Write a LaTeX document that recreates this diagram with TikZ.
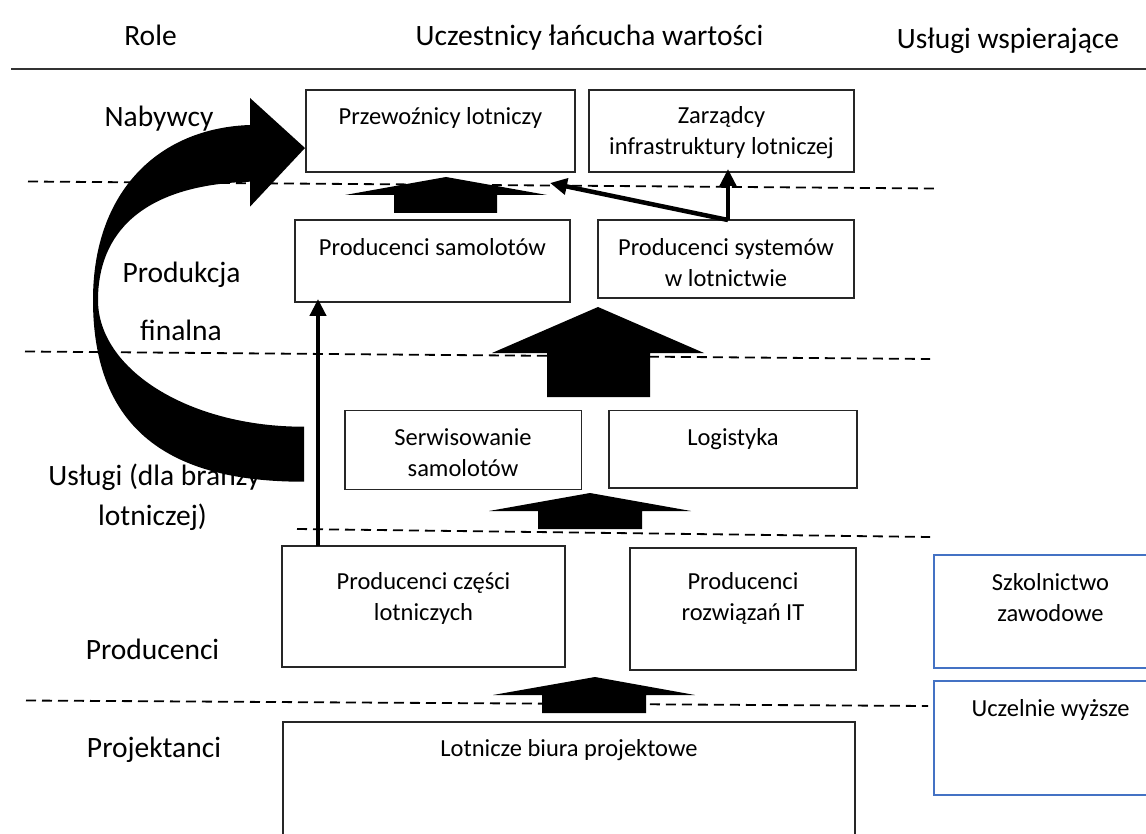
\documentclass[tikz,border=0pt]{standalone}
\usepackage{fontspec}
\setmainfont{Carlito}
\usetikzlibrary{arrows.meta}
\definecolor{boxblue}{RGB}{68,114,196}
\begin{document}
\begin{tikzpicture}[x=1pt,y=-1pt,
  box/.style={draw=black!85, line width=1.1pt, inner sep=0pt, outer sep=0pt, anchor=north west},
  bluebox/.style={draw=boxblue, line width=2.2pt, inner sep=0pt, outer sep=0pt, anchor=north west},
  txt/.style={font=\fontsize{24.5}{31}\selectfont, inner sep=0pt, anchor=base, align=center},
  lbl/.style={font=\fontsize{29.5}{36}\selectfont, inner sep=0pt, anchor=base},
  sepline/.style={dash pattern=on 10pt off 6pt, line width=1.8pt},
  thinarr/.style={line width=4.5pt, -{Triangle[width=16pt,length=17pt]}},
  blockarr/.style={fill=black}]
\clip (0,0) rectangle (1146,834);
\fill[white] (0,0) rectangle (1146,834);

% header
\node[lbl] (hrole) at (150.5,46) {Role};
\node[lbl] (hucz) at (589.5,46) {Uczestnicy łańcucha wartości};
\node[lbl] (husl) at (1008,49) {Usługi wspierające};
\draw[black!80, line width=2pt] (11,69) -- (1146,69);

% separators
\draw[sepline] (28,181.5) -- (935,188.5);
\draw[sepline] (25,351.5) -- (930,359);
\draw[sepline] (297,529) -- (930,537);
\draw[sepline] (26,700.5) -- (928,706);

% role labels
\node[lbl] (lnab) at (159,127) {Nabywcy};
\node[lbl] (lprod) at (181.5,283) {Produkcja};
\node[lbl] (lfin) at (181,341) {finalna};
\node[lbl] (lusl) at (154.5,485) {Usługi (dla branży};
\node[lbl] (llot) at (152.5,525) {lotniczej)};
\node[lbl] (lprc) at (152.5,659) {Producenci};
\node[lbl] (lprj) at (154,757) {Projektanci};

% boxes
\node[box, minimum width=269pt, minimum height=82pt] (prz) at (306,90) {};
\node[box, minimum width=265pt, minimum height=82pt] (zar) at (589,90) {};
\node[box, minimum width=275pt, minimum height=82pt] (psam) at (295,220) {};
\node[box, minimum width=256pt, minimum height=78pt] (psys) at (598,220) {};
\node[box, minimum width=236.5pt, minimum height=79pt] (serw) at (345,410.5) {};
\node[box, minimum width=248pt, minimum height=77.5pt] (log) at (609,410.5) {};
\node[box, minimum width=283pt, minimum height=121pt] (pcz) at (282,546) {};
\node[box, minimum width=226pt, minimum height=122pt] (pit) at (630,548) {};
\node[box, minimum width=572pt, minimum height=140pt] (lot) at (283,722) {};
\node[bluebox, minimum width=233pt, minimum height=113pt] (szk) at (934,555) {};
\node[bluebox, minimum width=233pt, minimum height=114pt] (ucz) at (934,681) {};

% box texts (multi-line nodes: y is the baseline of the last line)
\node[txt] (tprz) at (440.5,125) {Przewoźnicy lotniczy};
\node[txt] (tzar) at (721.5,155) {Zarządcy\\infrastruktury lotniczej};
\node[txt] (tpsam) at (432.5,256) {Producenci samolotów};
\node[txt] (tpsys) at (726,287) {Producenci systemów\\w lotnictwie};
\node[txt] (tserw) at (463,476) {Serwisowanie\\samolotów};
\node[txt] (tlog) at (733,445) {Logistyka};
\node[txt] (tpcz) at (423.5,620) {Producenci części\\lotniczych};
\node[txt] (tpit) at (743,620) {Producenci\\rozwiązań IT};
\node[txt] (tszk) at (1050.5,621) {Szkolnictwo\\zawodowe};
\node[txt] (tucz) at (1050.5,716) {Uczelnie wyższe};
\node[txt] (tlot) at (569,756) {Lotnicze biura projektowe};

% block arrows
\fill[blockarr] (394,213) -- (394,195) -- (345,195) -- (446,177) -- (547,195) -- (497,195) -- (497,213) -- cycle;
\fill[blockarr] (547,397) -- (547,353) -- (492,353) -- (598,307) -- (704,353) -- (650,353) -- (650,397) -- cycle;
\fill[blockarr] (538,529) -- (538,511) -- (489,511) -- (590,493) -- (691,511) -- (642,511) -- (642,529) -- cycle;
\fill[blockarr] (542,713) -- (542,695) -- (493,695) -- (595,677) -- (695,695) -- (646,695) -- (646,713) -- cycle;

% thin arrows
\coordinate (diagend) at (550,183);
\draw[thinarr] (318,0 |- pcz.north) -- ([yshift=3pt]318,0 |- psam.south);
\draw[thinarr] (728,0 |- psys.north) -- ([yshift=3pt]728,0 |- zar.south);
\draw[thinarr] (728,0 |- psys.north) -- (diagend);

% big curved arrow
\fill (304,481.7) .. controls (170,482) and (93,430) .. (93,300)
  .. controls (93,190) and (160,128) .. (250,125)
  -- (250,98) -- (305,148) -- (250,206.7) -- (250,181.7)
  .. controls (140,185) and (98,235) .. (98,300)
  .. controls (98,370) and (190,427) .. (304,426.7) -- cycle;
\end{tikzpicture}
\end{document}
